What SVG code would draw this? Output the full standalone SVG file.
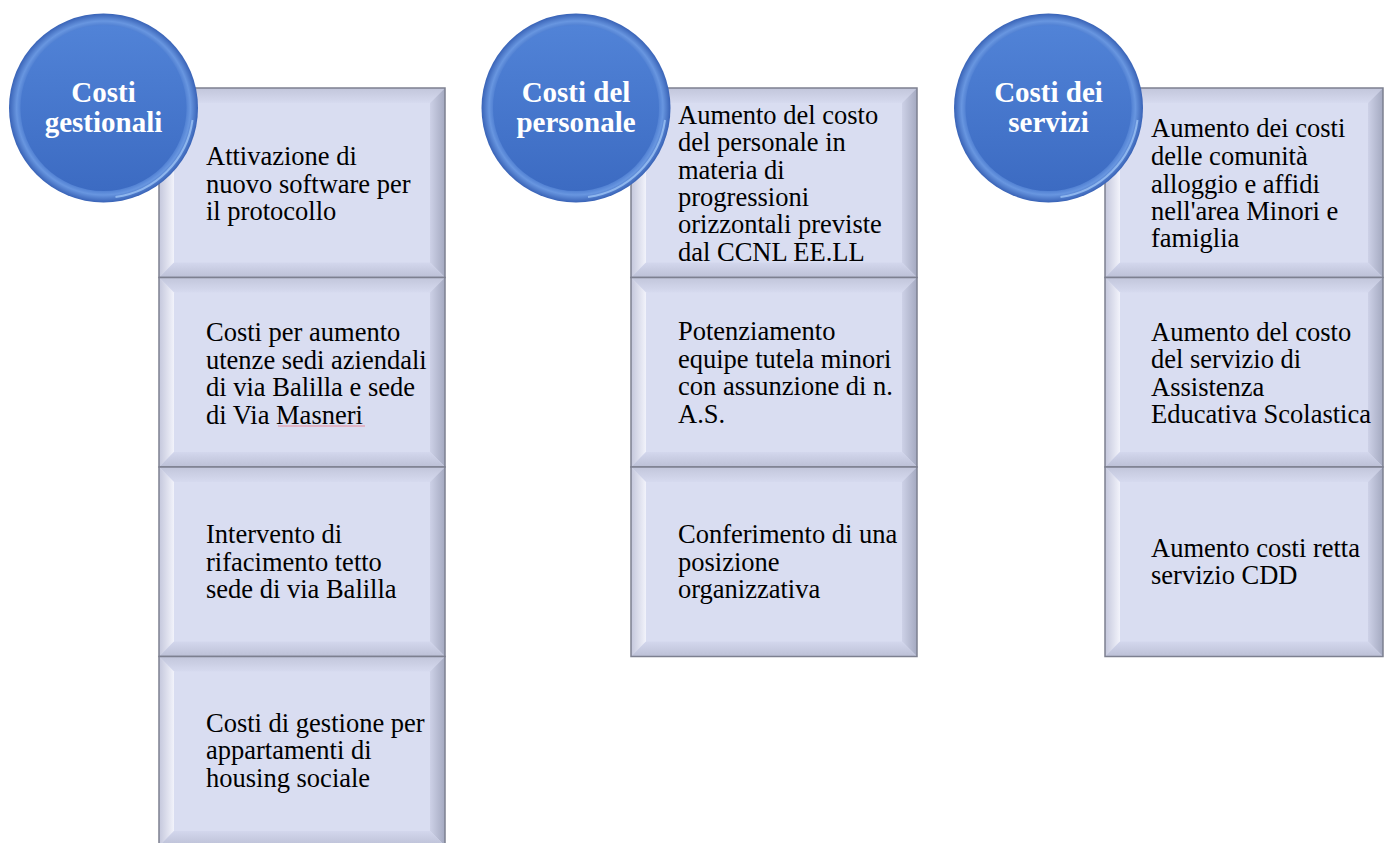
<svg xmlns="http://www.w3.org/2000/svg" xmlns:xlink="http://www.w3.org/1999/xlink" width="1384" height="843" viewBox="0 0 1384 843">
<style>
.t{font-family:"Liberation Serif","Times New Roman",serif;font-size:26.5px;fill:#000}
.h{font-family:"Liberation Serif","Times New Roman",serif;font-size:29px;font-weight:bold;fill:#fff;text-anchor:middle}
.edge{fill:none;stroke:#7d8090;stroke-width:1.5}
</style>
<defs>
<linearGradient id="gT" x1="0" y1="0" x2="0" y2="1"><stop offset="0" stop-color="#c2c6db"/><stop offset="1" stop-color="#d6daef"/></linearGradient>
<linearGradient id="gL" x1="0" y1="0" x2="1" y2="0"><stop offset="0" stop-color="#c4c7dc"/><stop offset="1" stop-color="#f2f3fb"/></linearGradient>
<linearGradient id="gR" x1="0" y1="0" x2="1" y2="0"><stop offset="0" stop-color="#cdd1e7"/><stop offset="1" stop-color="#a4a9c0"/></linearGradient>
<linearGradient id="gB" x1="0" y1="0" x2="0" y2="1"><stop offset="0" stop-color="#d3d7ed"/><stop offset="1" stop-color="#bcc0d6"/></linearGradient>
<radialGradient id="cOut" cx="0.5" cy="0.5" r="0.5"><stop offset="0" stop-color="#4676cb"/><stop offset="0.86" stop-color="#4979ce"/><stop offset="0.92" stop-color="#6896e0"/><stop offset="1" stop-color="#3862b6"/></radialGradient>
<linearGradient id="cIn" x1="0" y1="0" x2="0" y2="1"><stop offset="0" stop-color="#5183d7"/><stop offset="1" stop-color="#3c6bc2"/></linearGradient>
<g id="bx">
<rect width="286" height="189.5" fill="#d9ddf1"/>
<polygon points="0,0 286,0 271,15 15,15" fill="url(#gT)"/>
<polygon points="0,0 15,15 15,174.5 0,189.5" fill="url(#gL)"/>
<polygon points="286,0 286,189.5 271,174.5 271,15" fill="url(#gR)"/>
<polygon points="0,189.5 15,174.5 271,174.5 286,189.5" fill="url(#gB)"/>
<rect width="286" height="189.5" class="edge"/>
</g>
<g id="bx3">
<rect width="278" height="189.5" fill="#d9ddf1"/>
<polygon points="0,0 278,0 263,15 15,15" fill="url(#gT)"/>
<polygon points="0,0 15,15 15,174.5 0,189.5" fill="url(#gL)"/>
<polygon points="278,0 278,189.5 263,174.5 263,15" fill="url(#gR)"/>
<polygon points="0,189.5 15,174.5 263,174.5 278,189.5" fill="url(#gB)"/>
<rect width="278" height="189.5" class="edge"/>
</g>
<g id="disc">
<circle r="94.5" fill="url(#cOut)"/>
<circle r="83" fill="url(#cIn)"/>
<path d="M 89 12 A 90 90 0 0 1 12 89" fill="none" stroke="#9cc3f5" stroke-width="2" opacity="0.8"/>
</g>
</defs>

<g id="col1-box1"><use href="#bx" x="159" y="88"/>
<text class="t"><tspan x="206" y="165">Attivazione di</tspan><tspan x="206" y="192.7">nuovo software per</tspan><tspan x="206" y="220">il protocollo</tspan></text></g>
<g id="col1-box2"><use href="#bx" x="159" y="277.5"/>
<text class="t"><tspan x="206" y="341">Costi per aumento</tspan><tspan x="206" y="368.5">utenze sedi aziendali</tspan><tspan x="206" y="396">di via Balilla e sede</tspan><tspan x="206" y="423.5">di Via Masneri</tspan></text>
<line x1="278" y1="426" x2="365" y2="426" stroke="#e88a98" stroke-width="1"/></g>
<g id="col1-box3"><use href="#bx" x="159" y="467"/>
<text class="t"><tspan x="206" y="543.3">Intervento di</tspan><tspan x="206" y="571">rifacimento tetto</tspan><tspan x="206" y="598.3">sede di via Balilla</tspan></text></g>
<g id="col1-box4"><use href="#bx" x="159" y="656.5"/>
<text class="t"><tspan x="206" y="731.7">Costi di gestione per</tspan><tspan x="206" y="759.3">appartamenti di</tspan><tspan x="206" y="786.7">housing sociale</tspan></text></g>

<g id="col2-box1"><use href="#bx" x="631" y="88"/>
<text class="t"><tspan x="678" y="124">Aumento del costo</tspan><tspan x="678" y="151.3">del personale in</tspan><tspan x="678" y="178.6">materia di</tspan><tspan x="678" y="206">progressioni</tspan><tspan x="678" y="233.3">orizzontali previste</tspan><tspan x="678" y="260.7">dal CCNL EE.LL</tspan></text></g>
<g id="col2-box2"><use href="#bx" x="631" y="277.5"/>
<text class="t"><tspan x="678" y="340">Potenziamento</tspan><tspan x="678" y="367.5">equipe tutela minori</tspan><tspan x="678" y="395">con assunzione di n.</tspan><tspan x="678" y="422.5">A.S.</tspan></text></g>
<g id="col2-box3"><use href="#bx" x="631" y="467"/>
<text class="t"><tspan x="678" y="543.3">Conferimento di una</tspan><tspan x="678" y="570.7">posizione</tspan><tspan x="678" y="598.3">organizzativa</tspan></text></g>

<g id="col3-box1"><use href="#bx3" x="1105" y="88"/>
<text class="t"><tspan x="1151" y="137.3">Aumento dei costi</tspan><tspan x="1151" y="165">delle comunità</tspan><tspan x="1151" y="192.7">alloggio e affidi</tspan><tspan x="1151" y="220">nell'area Minori e</tspan><tspan x="1151" y="247.3">famiglia</tspan></text></g>
<g id="col3-box2"><use href="#bx3" x="1105" y="277.5"/>
<text class="t"><tspan x="1151" y="340.7">Aumento del costo</tspan><tspan x="1151" y="368.3">del servizio di</tspan><tspan x="1151" y="396">Assistenza</tspan><tspan x="1151" y="423.3">Educativa Scolastica</tspan></text></g>
<g id="col3-box3"><use href="#bx3" x="1105" y="467"/>
<text class="t"><tspan x="1151" y="556.7">Aumento costi retta</tspan><tspan x="1151" y="584.3">servizio CDD</tspan></text></g>

<g id="circle1"><use href="#disc" x="103.5" y="108"/>
<text class="h"><tspan x="103.5" y="101.7">Costi</tspan><tspan x="103.5" y="131.7">gestionali</tspan></text></g>
<g id="circle2"><use href="#disc" x="576" y="108"/>
<text class="h"><tspan x="576" y="101.7">Costi del</tspan><tspan x="576" y="131.7">personale</tspan></text></g>
<g id="circle3"><use href="#disc" x="1048.5" y="108"/>
<text class="h"><tspan x="1048.5" y="101.7">Costi dei</tspan><tspan x="1048.5" y="131.7">servizi</tspan></text></g>
</svg>
